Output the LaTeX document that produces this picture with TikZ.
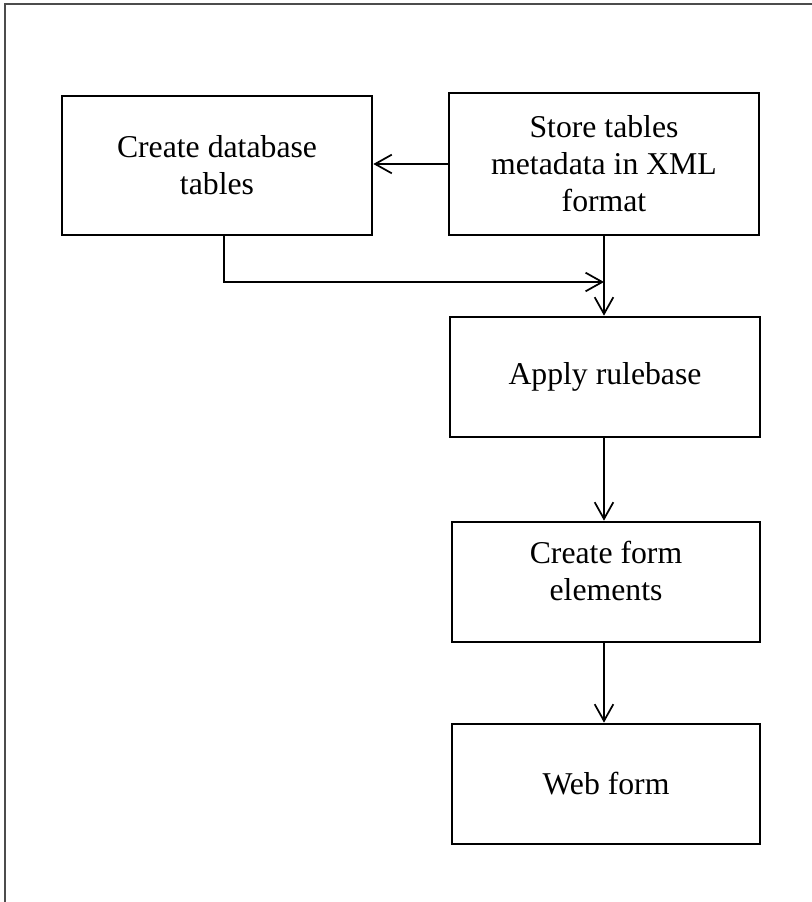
\documentclass[tikz,border=0pt]{standalone}
\usepackage{fontspec}
\setmainfont{Liberation Serif}
\usetikzlibrary{arrows.meta}
\begin{document}
\begin{tikzpicture}[x=0.75pt,y=-0.75pt,
  box/.style={draw=black,line width=2pt,minimum width=232.5pt,minimum height=90pt,inner sep=0pt,align=center,
    font=\fontsize{23.8pt}{27.75pt}\selectfont},
  conn/.style={draw=black,line width=1.3pt,-{Straight Barb[length=12.5pt,width=14pt,line width=1.3pt]}},
  lbl/.style={inner sep=0pt,align=center,font=\fontsize{23.8pt}{27.75pt}\selectfont}]
\useasboundingbox (0,0) rectangle (812,902);
\draw[line width=0.9pt,black!70] (5,904) -- (5,4) -- (814,4);
\node[box,minimum height=104.25pt] (b1) at (217,165.5) {Create database\\tables};
\node[box,minimum height=106.5pt] (b2) at (604,164) {Store tables\\metadata in XML\\format};
\node[box] (b3) at (605,377) {Apply rulebase};
\node[box,minimum width=231pt] (b4) at (606,582) {};
\node[lbl] (t4) at (606,571) {Create form\\elements};
\node[box,minimum width=231pt] (b5) at (606,784) {Web form};
\coordinate (j) at (604,282);
\draw[conn] (b2.west) -- (b2.west -| b1.east);
\draw[conn] ([xshift=5.25pt]b1.south) |- (j);
\draw[conn] (b2.south) -- (b2.south |- b3.north);
\draw[conn] (b3.south -| b2.south) -- (b4.north -| b2.south);
\draw[conn] (b4.south -| b2.south) -- (b5.north -| b2.south);
\end{tikzpicture}
\end{document}
